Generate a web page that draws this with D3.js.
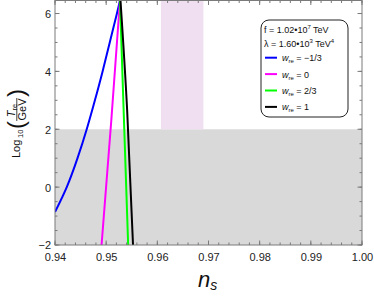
<!DOCTYPE html>
<html><head><meta charset="utf-8">
<script src="https://cdn.jsdelivr.net/npm/d3@7"></script>
<style>
html,body{margin:0;padding:0;background:#fff;}
svg{display:block;font-family:"Liberation Sans",Arial,sans-serif;}
</style></head>
<body>
<svg id="c" width="374" height="296"></svg>
<script>
// ---- data ----
const xDomain = [0.94, 1.00];
const yDomain = [-2, 6.45];
const xTicks = [0.94, 0.95, 0.96, 0.97, 0.98, 0.99, 1.00];
const xTickLabels = ["0.94", "0.95", "0.96", "0.97", "0.98", "0.99", "1.00"];
const yTicks = [-2, 0, 2, 4, 6];
const yTickLabels = ["\u22122", "0", "2", "4", "6"];
const grayBand = [-2, 2];          // shaded T_re region (y)
const pinkBand = [0.9607, 0.9690]; // n_s band (x), above gray
const seriesNames = ["\u22121/3", "0", "2/3", "1"];
const seriesColors = ["#0000ff", "#ff00ff", "#00ff00", "#000000"];
const blueNs = [0.9400, 0.9423, 0.9444, 0.9462, 0.9478, 0.9493, 0.9507, 0.9521, 0.9527];
const blueT  = [-0.86, 0.0, 1.0, 2.0, 3.0, 4.0, 5.0, 6.0, 6.45];
const magentaNs = [0.9491, 0.9510, 0.9527];
const magentaT  = [-2.0, 2.3, 6.45];
const greenNs = [0.9543, 0.9535, 0.9527];
const greenT  = [-2.0, 2.2, 6.45];
const blackNs = [0.95525, 0.9541, 0.9528];
const blackT  = [-2.0, 2.66, 6.45];
const legendParams = [["f = 1.02\u202210", "7", " TeV", ""], ["\u03bb = 1.60\u202210", "3", " TeV", "4"]];

// ---- layout ----
const svg = d3.select("#c");
const L = 55, R = 362, T = 0.5, B = 245;
const x = d3.scaleLinear().domain(xDomain).range([L, R]);
const y = d3.scaleLinear().domain(yDomain).range([B, T]);
const frameCol = "#7a7a7a";

svg.append("defs").append("clipPath").attr("id", "clip")
  .append("rect").attr("x", L).attr("y", T).attr("width", R - L).attr("height", B - T);
const plot = svg.append("g").attr("clip-path", "url(#clip)");

// shaded regions
plot.append("rect").attr("x", L).attr("width", R - L)
  .attr("y", y(grayBand[1])).attr("height", y(grayBand[0]) - y(grayBand[1]))
  .attr("fill", "#d9d9d9");
plot.append("rect").attr("x", x(pinkBand[0])).attr("width", x(pinkBand[1]) - x(pinkBand[0]))
  .attr("y", T).attr("height", y(grayBand[1]) - T)
  .attr("fill", "#f0dff0");

// curves
const series = [[blueNs, blueT], [magentaNs, magentaT], [greenNs, greenT], [blackNs, blackT]];
const line = d3.line().x(d => x(d[0])).y(d => y(d[1])).curve(d3.curveNatural);
series.forEach((s, i) => {
  const pts = s[0].map((v, j) => [v, s[1][j]]);
  plot.append("path").datum(pts).attr("d", line)
    .attr("fill", "none").attr("stroke", seriesColors[i]).attr("stroke-width", 2);
});

// frame & ticks
const ax = svg.append("g");
const xMinor = d3.range(0.94, 1.0001, 0.002);
const yMinor = d3.range(-2, 6.46, 0.5);
const axB = d3.axisBottom(x).tickValues(xTicks).tickSize(0).tickFormat((d, i) => xTickLabels[i]);
const gB = ax.append("g").attr("transform", `translate(0,${B})`).call(axB);
gB.select(".domain").remove();
gB.selectAll("text").attr("dy", null).attr("y", 16).attr("font-size", 11)
  .attr("font-family", "Liberation Sans, Arial, sans-serif").attr("fill", "#222");
const axLft = d3.axisLeft(y).tickValues(yTicks).tickSize(0).tickFormat((d, i) => yTickLabels[i]);
const gL = ax.append("g").attr("transform", `translate(${L},0)`).call(axLft);
gL.select(".domain").remove();
gL.selectAll("text").attr("x", -4).attr("dy", "0.36em").attr("font-size", 11)
  .attr("font-family", "Liberation Sans, Arial, sans-serif").attr("fill", "#222");

function tickX(v, len) {
  ax.append("line").attr("x1", x(v)).attr("x2", x(v)).attr("y1", B).attr("y2", B - len).attr("stroke", frameCol);
  ax.append("line").attr("x1", x(v)).attr("x2", x(v)).attr("y1", T).attr("y2", T + len).attr("stroke", frameCol);
}
function tickY(v, len) {
  ax.append("line").attr("y1", y(v)).attr("y2", y(v)).attr("x1", L).attr("x2", L + len).attr("stroke", frameCol);
  ax.append("line").attr("y1", y(v)).attr("y2", y(v)).attr("x1", R).attr("x2", R - len).attr("stroke", frameCol);
}
xMinor.forEach(v => tickX(v, 2.5));
xTicks.forEach(v => tickX(v, 4.5));
yMinor.forEach(v => tickY(v, 2.5));
yTicks.forEach(v => tickY(v, 4.5));
ax.append("rect").attr("x", L).attr("y", T).attr("width", R - L).attr("height", B - T)
  .attr("fill", "none").attr("stroke", frameCol).attr("stroke-width", 1);

// x-axis title n_s
const xt = svg.append("text").attr("x", 198).attr("y", 287).attr("font-style", "italic").attr("fill", "#111");
xt.append("tspan").attr("font-size", 22).text("n");
xt.append("tspan").attr("font-size", 14).attr("dy", 3).text("s");

// y-axis title Log10(T_re / GeV)
const yl = svg.append("g").attr("transform", "translate(20,158) rotate(-90)").attr("fill", "#111");
yl.append("text").attr("x", 0).attr("y", 0).attr("font-size", 11).text("Log");
yl.append("text").attr("x", 20).attr("y", 2.5).attr("font-size", 7.5).text("10");
yl.append("text").attr("x", 29).attr("y", 4).attr("font-size", 24).attr("font-weight", 100).text("(");
const fr = yl.append("g").attr("transform", "translate(48.5,-3.2)");
const num = fr.append("text").attr("x", -1).attr("y", -2.3).attr("text-anchor", "middle");
num.append("tspan").attr("font-size", 11).attr("font-style", "italic").text("T");
num.append("tspan").attr("font-size", 7.5).attr("dy", 2).text("re");
fr.append("line").attr("x1", -11.5).attr("x2", 11.5).attr("y1", 0).attr("y2", 0).attr("stroke", "#111").attr("stroke-width", 0.8);
fr.append("text").attr("x", 0).attr("y", 9.5).attr("text-anchor", "middle").attr("font-size", 11).text("GeV");
yl.append("text").attr("x", 61).attr("y", 4).attr("font-size", 24).attr("font-weight", 100).text(")");

// legend
const lg = svg.append("g");
lg.append("rect").attr("x", 261).attr("y", 20).attr("width", 87).attr("height", 97).attr("rx", 8)
  .attr("fill", "#fff").attr("stroke", "#222").attr("stroke-width", 1);
legendParams.forEach((p, i) => {
  const t = lg.append("text").attr("x", 264).attr("y", 33 + i * 13.5).attr("font-size", 9).attr("fill", "#111");
  t.append("tspan").text(p[0]);
  t.append("tspan").attr("font-size", 6).attr("dy", -4).text(p[1]);
  t.append("tspan").attr("dy", 4).text(p[2]);
  if (p[3]) t.append("tspan").attr("font-size", 6).attr("dy", -4).text(p[3]);
});
seriesNames.forEach((n, i) => {
  const yy = 57.7 + i * 16.4;
  lg.append("line").attr("x1", 265).attr("x2", 277).attr("y1", yy).attr("y2", yy)
    .attr("stroke", seriesColors[i]).attr("stroke-width", 2);
  const t = lg.append("text").attr("x", 282).attr("y", yy + 3.5).attr("font-size", 9).attr("fill", "#111");
  t.append("tspan").attr("font-style", "italic").text("w");
  t.append("tspan").attr("font-size", 6).attr("dy", 2).text("re");
  t.append("tspan").attr("dy", -2).text(" = " + n);
});
</script>
</body></html>
